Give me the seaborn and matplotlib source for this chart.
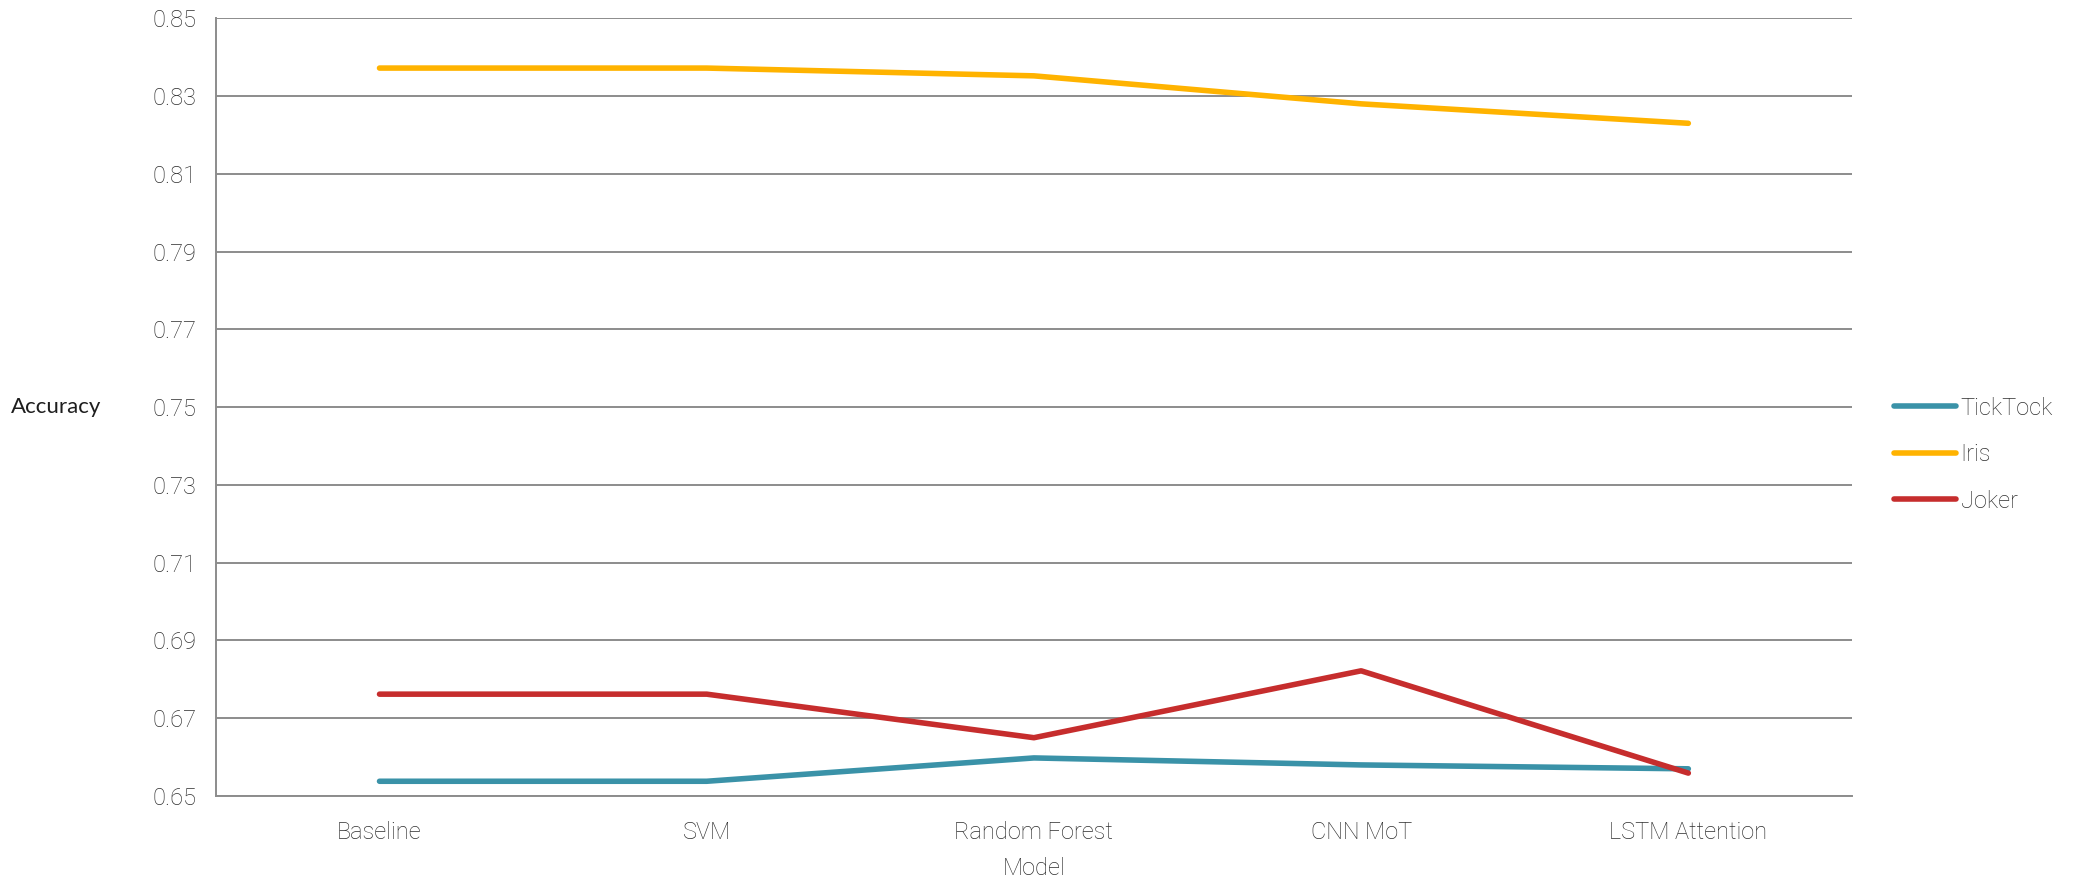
import matplotlib
matplotlib.use("Agg")
import matplotlib.pyplot as plt
import seaborn as sns
import pandas as pd

models = ["Baseline", "SVM", "Random Forest", "CNN MoT", "LSTM Attention"]
ticktock = [0.6538, 0.6538, 0.6598, 0.6580, 0.6570]
iris = [0.8372, 0.8372, 0.8352, 0.8280, 0.8230]
joker = [0.6762, 0.6762, 0.6650, 0.6822, 0.6559]
series_names = ["TickTock", "Iris", "Joker"]
yticks = [0.65, 0.67, 0.69, 0.71, 0.73, 0.75, 0.77, 0.79, 0.81, 0.83, 0.85]

colors = {"TickTock": "#3A92A8", "Iris": "#FFB300", "Joker": "#C62D2D"}

rows = []
for name, vals in zip(series_names, [ticktock, iris, joker]):
    for i, (m, v) in enumerate(zip(models, vals)):
        rows.append({"Model": m, "idx": i, "Accuracy": v, "Series": name})
df = pd.DataFrame(rows)

sns.set_theme(style="white")
plt.rcParams["font.family"] = ["Roboto", "DejaVu Sans"]

txt = "#2e2e2e"

fig = plt.figure(figsize=(20.82, 8.84), dpi=100)
ax = fig.add_axes([0.1037, 0.0995, 0.7858, 0.8798])

sns.lineplot(data=df, x="idx", y="Accuracy", hue="Series", hue_order=series_names,
             palette=colors, linewidth=4, ax=ax, legend=True,
             solid_capstyle="round")

ax.set_xlim(-0.5, 4.5)
ax.set_ylim(0.65, 0.85)
ax.set_yticks(yticks)
ax.set_yticklabels([f"{t:.2f}" for t in yticks], fontsize=17, color=txt, fontweight="light")
ax.set_xticks([0, 1, 2, 3, 4])
ax.set_xticklabels(models, fontsize=17, color=txt, fontweight="light")
ax.set_xticks([-0.5, 0.5, 1.5, 2.5, 3.5, 4.5], minor=True)
ax.tick_params(axis="x", which="major", length=0, pad=18)
ax.tick_params(axis="x", which="minor", length=8, width=1.4, color="#8c8c8c", direction="out")
ax.tick_params(axis="y", which="major", length=8, width=1.4, color="#8c8c8c", direction="out", pad=6)
ax.yaxis.grid(True, color="#8c8c8c", linewidth=1.4)
ax.xaxis.grid(False)
for side in ["top", "right"]:
    ax.spines[side].set_visible(False)
for side in ["left", "bottom"]:
    ax.spines[side].set_color("#8c8c8c")
    ax.spines[side].set_linewidth(1.4)
ax.set_axisbelow(True)

ax.set_xlabel("Model", fontsize=17, color=txt, fontweight="light", labelpad=9)
ax.set_ylabel("Accuracy", fontsize=16, color="#1e1e1e", rotation=0, labelpad=0,
              family=["Lato", "DejaVu Sans"], fontweight="normal", ha="center", va="center")
ax.yaxis.set_label_coords(-0.0975, 0.5)

leg = ax.legend(loc="center left", bbox_to_anchor=(1.013, 0.439), frameon=False,
                fontsize=17, handlelength=2.6, handletextpad=0.2, labelspacing=1.0)
for line in leg.get_lines():
    line.set_linewidth(4)
    line.set_solid_capstyle("round")
for t in leg.get_texts():
    t.set_color(txt)
    t.set_fontweight("light")

fig.savefig("out.png", dpi=100)
